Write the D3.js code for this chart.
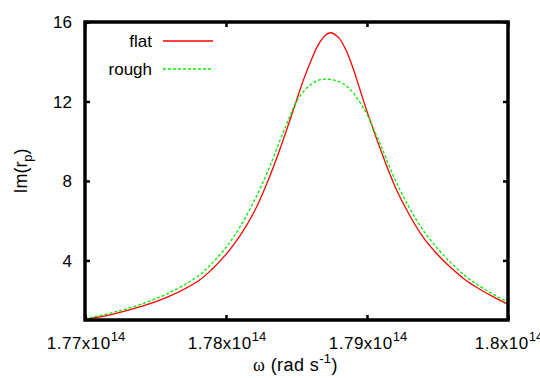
<!DOCTYPE html>
<html>
<head>
<meta charset="utf-8">
<script src="https://cdn.jsdelivr.net/npm/d3@7"></script>
<style>
  html, body { margin: 0; padding: 0; background: #fff; }
  svg { display: block; font-family: "Liberation Sans", Arial, Helvetica, sans-serif; }
</style>
</head>
<body>
<svg id="chart" width="540" height="378"></svg>
<script>
// ---- data: omega (x 1e14 rad/s) and Im(r_p) ----
const flatOmega = [1.7700,1.7720,1.7740,1.7760,1.7780,1.7790,1.7800,1.7810,1.7820,1.7830,1.7840,1.7850,1.7855,1.7860,1.7865,1.7870,1.7874,1.7880,1.7885,1.7890,1.7895,1.7900,1.7910,1.7920,1.7930,1.7940,1.7950,1.7960,1.7970,1.7980,1.7990,1.8000];
const flatValues = [1.03,1.30,1.68,2.20,2.95,3.55,4.30,5.25,6.45,8.05,9.95,12.05,13.1,14.0,14.8,15.3,15.46,15.2,14.6,13.7,12.6,11.5,9.5,7.7,6.3,5.15,4.3,3.6,3.0,2.55,2.15,1.78];

const roughOmega = [1.7700,1.7720,1.7740,1.7760,1.7780,1.7790,1.7800,1.7810,1.7820,1.7830,1.7840,1.7845,1.7850,1.7855,1.7860,1.7865,1.7870,1.7875,1.7880,1.7885,1.7890,1.7895,1.7900,1.7910,1.7920,1.7930,1.7940,1.7950,1.7960,1.7970,1.7980,1.7990,1.8000];
const roughValues = [1.06,1.38,1.80,2.38,3.20,3.85,4.65,5.70,7.00,8.55,10.35,11.2,12.0,12.5,12.85,13.05,13.12,13.1,13.0,12.8,12.45,11.95,11.35,9.75,8.05,6.65,5.5,4.6,3.85,3.2,2.7,2.28,1.88];

const seriesNames = ["flat", "rough"];
const xTicks = [1.77, 1.78, 1.79, 1.80];
const xTickMantissa = ["1.77", "1.78", "1.79", "1.8"];
const xTickExponent = ["14", "14", "14", "14"];
const yTicks = [4, 8, 12, 16];

// ---- layout ----
const svg = d3.select("#chart");
const L = 85, R = 508, T = 22, B = 320;
const x = d3.scaleLinear().domain([1.77, 1.80]).range([L, R]);
const y = d3.scaleLinear().domain([1, 16]).range([B, T]);

svg.append("defs").append("clipPath").attr("id", "clip")
  .append("rect").attr("x", L).attr("y", T).attr("width", R - L).attr("height", B - T);

// ---- curves ----
const line = d3.line().x(d => x(d[0])).y(d => y(d[1])).curve(d3.curveCatmullRom.alpha(0.5));
const flatData = d3.zip(flatOmega, flatValues);
const roughData = d3.zip(roughOmega, roughValues);
const red = "#ff0000", green = "#00ee00";

const g = svg.append("g").attr("clip-path", "url(#clip)");
g.append("path").datum(flatData).attr("d", line)
  .attr("fill", "none").attr("stroke", red).attr("stroke-width", 1.3);
g.append("path").datum(roughData).attr("d", line)
  .attr("fill", "none").attr("stroke", green).attr("stroke-width", 1.3)
  .attr("stroke-dasharray", "3,2");

// ---- axes (ticks inward, mirrored) ----
const tickLen = 5;
const axB = d3.axisBottom(x).tickValues(xTicks).tickSize(-tickLen).tickFormat("");
const axT = d3.axisTop(x).tickValues(xTicks).tickSize(-tickLen).tickFormat("");
const axL = d3.axisLeft(y).tickValues(yTicks).tickSize(-tickLen).tickFormat("");
const axR = d3.axisRight(y).tickValues(yTicks).tickSize(-tickLen).tickFormat("");
[[axB, `translate(0,${B})`], [axT, `translate(0,${T})`], [axL, `translate(${L},0)`], [axR, `translate(${R},0)`]]
  .forEach(([ax, tr]) => {
    const a = svg.append("g").attr("transform", tr).call(ax);
    a.select(".domain").remove();
    a.selectAll(".tick line").attr("stroke", "#000").attr("stroke-width", 2.5);
  });

// border
svg.append("rect").attr("x", L).attr("y", T).attr("width", R - L).attr("height", B - T)
  .attr("fill", "none").attr("stroke", "#000").attr("stroke-width", 3.5);

// y tick labels
svg.append("g").selectAll("text").data(yTicks).join("text")
  .attr("x", 72).attr("y", d => y(d)).attr("dy", "0.36em")
  .attr("text-anchor", "end").attr("font-size", 17).attr("fill", "#000")
  .text(d => d);

// x tick labels with superscript exponent
const xl = svg.append("g").selectAll("text").data(xTicks).join("text")
  .attr("x", d => x(d) + 1).attr("y", 349)
  .attr("text-anchor", "middle").attr("font-size", 17).attr("letter-spacing", 0.5).attr("fill", "#000");
xl.append("tspan").text((d, i) => xTickMantissa[i] + "x10");
xl.append("tspan").attr("dy", -8).attr("font-size", 13).attr("letter-spacing", 0).text((d, i) => xTickExponent[i]);

// axis titles
const xt = svg.append("text").attr("x", (L + R) / 2 - 1).attr("y", 371)
  .attr("text-anchor", "middle").attr("font-size", 18).attr("letter-spacing", 0.4).attr("fill", "#000");
xt.append("tspan").attr("font-family", "'Liberation Serif', 'DejaVu Serif', serif").text("ω");
xt.append("tspan").text(" (rad s");
xt.append("tspan").attr("dy", -8).attr("font-size", 13).text("-1");
xt.append("tspan").attr("dy", 8).text(")");

const yt = svg.append("text").attr("transform", `translate(27,${(T + B) / 2}) rotate(-90)`)
  .attr("text-anchor", "middle").attr("font-size", 18).attr("fill", "#000");
yt.append("tspan").text("Im(r");
yt.append("tspan").attr("dy", 5).attr("font-size", 13).text("p");
yt.append("tspan").attr("dy", -5).text(")");

// legend
const legend = svg.append("g");
const legY = [41, 69];
legend.selectAll("text").data(seriesNames).join("text")
  .attr("x", 152).attr("y", (d, i) => legY[i]).attr("dy", "0.36em")
  .attr("text-anchor", "end").attr("font-size", 17).attr("fill", "#000")
  .text(d => d);
legend.append("line").attr("x1", 163).attr("x2", 213).attr("y1", legY[0]).attr("y2", legY[0])
  .attr("stroke", red).attr("stroke-width", 1.3);
legend.append("line").attr("x1", 163).attr("x2", 213).attr("y1", legY[1]).attr("y2", legY[1])
  .attr("stroke", green).attr("stroke-width", 1.3).attr("stroke-dasharray", "3,2");
</script>
</body>
</html>
